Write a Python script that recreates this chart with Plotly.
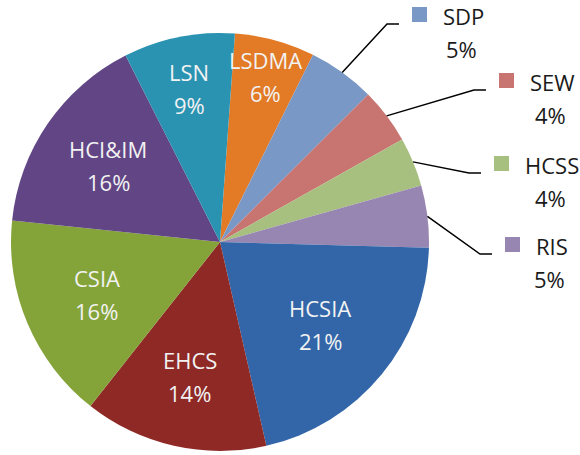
import math
import plotly.graph_objects as go

# ---------------- data ----------------
categories = ["LSDMA", "SDP", "SEW", "HCSS", "RIS", "HCSIA", "EHCS", "CSIA", "HCI&IM", "LSN"]
values = [6.2, 5.2, 4.3, 3.8, 4.8, 21.0, 14.2, 16.0, 15.9, 8.6]
colors = ["#E27A26", "#7A98C6", "#C87572", "#A8C07F", "#9886B2",
          "#3266A8", "#8E2926", "#84A43A", "#614585", "#2B93B2"]

# ---------------- layout settings ----------------
W, H = 580, 455
PIE_CX, PIE_CY, PIE_R = 220, 242, 209   # pixels
ROTATION = 4.1
FONT = "Open Sans"
FS = 22
inside_label_r = {"LSDMA": 0.82, "HCSIA": 0.62, "EHCS": 0.66, "CSIA": 0.64,
                  "HCI&IM": 0.65, "LSN": 0.75}
outside_anchor = {"SDP": (399, 24), "SEW": (486, 90), "HCSS": (481, 173), "RIS": (492, 254)}
char_w = {"S": .549, "D": .717, "P": .603, "E": .556, "W": .928, "H": .738,
          "C": .632, "R": .621, "I": .279}

def px(x):
    return x / W

def py(y):
    return 1 - y / H

total = sum(values)
pct = [f"{round(100 * v / total)}%" for v in values]

fig = go.Figure(go.Pie(
    labels=categories, values=values, sort=False, direction="clockwise",
    rotation=ROTATION, textinfo="none", hoverinfo="label+percent",
    marker=dict(colors=colors, line=dict(width=0)),
    domain=dict(x=[px(PIE_CX - PIE_R), px(PIE_CX + PIE_R)],
                y=[py(PIE_CY + PIE_R), py(PIE_CY - PIE_R)]),
    showlegend=False,
))

annotations = []
shapes = []
cum = 0.0
for cat, v, p, col in zip(categories, values, pct, colors):
    mid = math.radians(ROTATION + 360 * (cum + v / 2) / total)
    cum += v
    if cat in inside_label_r:
        r = inside_label_r[cat] * PIE_R
        x = PIE_CX + r * math.sin(mid)
        y = PIE_CY - r * math.cos(mid)
        for txt, dy in ((cat, -16.5), (p, 16.5)):
            annotations.append(dict(x=px(x), y=py(y + dy), xref="paper", yref="paper",
                                    text=txt, showarrow=False, xanchor="center",
                                    yanchor="middle",
                                    font=dict(family=FONT, size=FS, color="#F2F2F2")))
    else:
        ex, ey = outside_anchor[cat]
        sx = PIE_CX + PIE_R * math.sin(mid)
        sy = PIE_CY - PIE_R * math.cos(mid)
        path = (f"M {px(sx)} {py(sy)} L {px(ex - 12)} {py(ey)} L {px(ex)} {py(ey)}")
        shapes.append(dict(type="path", path=path, xref="paper", yref="paper",
                           line=dict(color="#000000", width=1.5)))
        shapes.append(dict(type="rect", xref="paper", yref="paper",
                           x0=px(ex + 13), x1=px(ex + 28), y0=py(ey - 2), y1=py(ey - 17),
                           fillcolor=col, line=dict(width=0)))
        name_left = ex + 42
        w = sum(char_w.get(c, 0.6) for c in cat) * FS
        annotations.append(dict(x=px(name_left), y=py(ey - 8), xref="paper", yref="paper",
                                text=cat, showarrow=False, xanchor="left", yanchor="middle",
                                font=dict(family=FONT, size=FS, color="#1A1A1A")))
        annotations.append(dict(x=px(name_left + w / 2), y=py(ey + 25), xref="paper",
                                yref="paper", text=p, showarrow=False, xanchor="center",
                                yanchor="middle",
                                font=dict(family=FONT, size=FS, color="#1A1A1A")))

fig.update_layout(
    width=W, height=H, margin=dict(l=0, r=0, t=0, b=0),
    paper_bgcolor="white", plot_bgcolor="white",
    annotations=annotations, shapes=shapes,
)

fig.write_html("out.html", config={"displayModeBar": False},
               post_script="document.body.style.margin='0';"
                           "document.body.style.overflow='hidden';")
